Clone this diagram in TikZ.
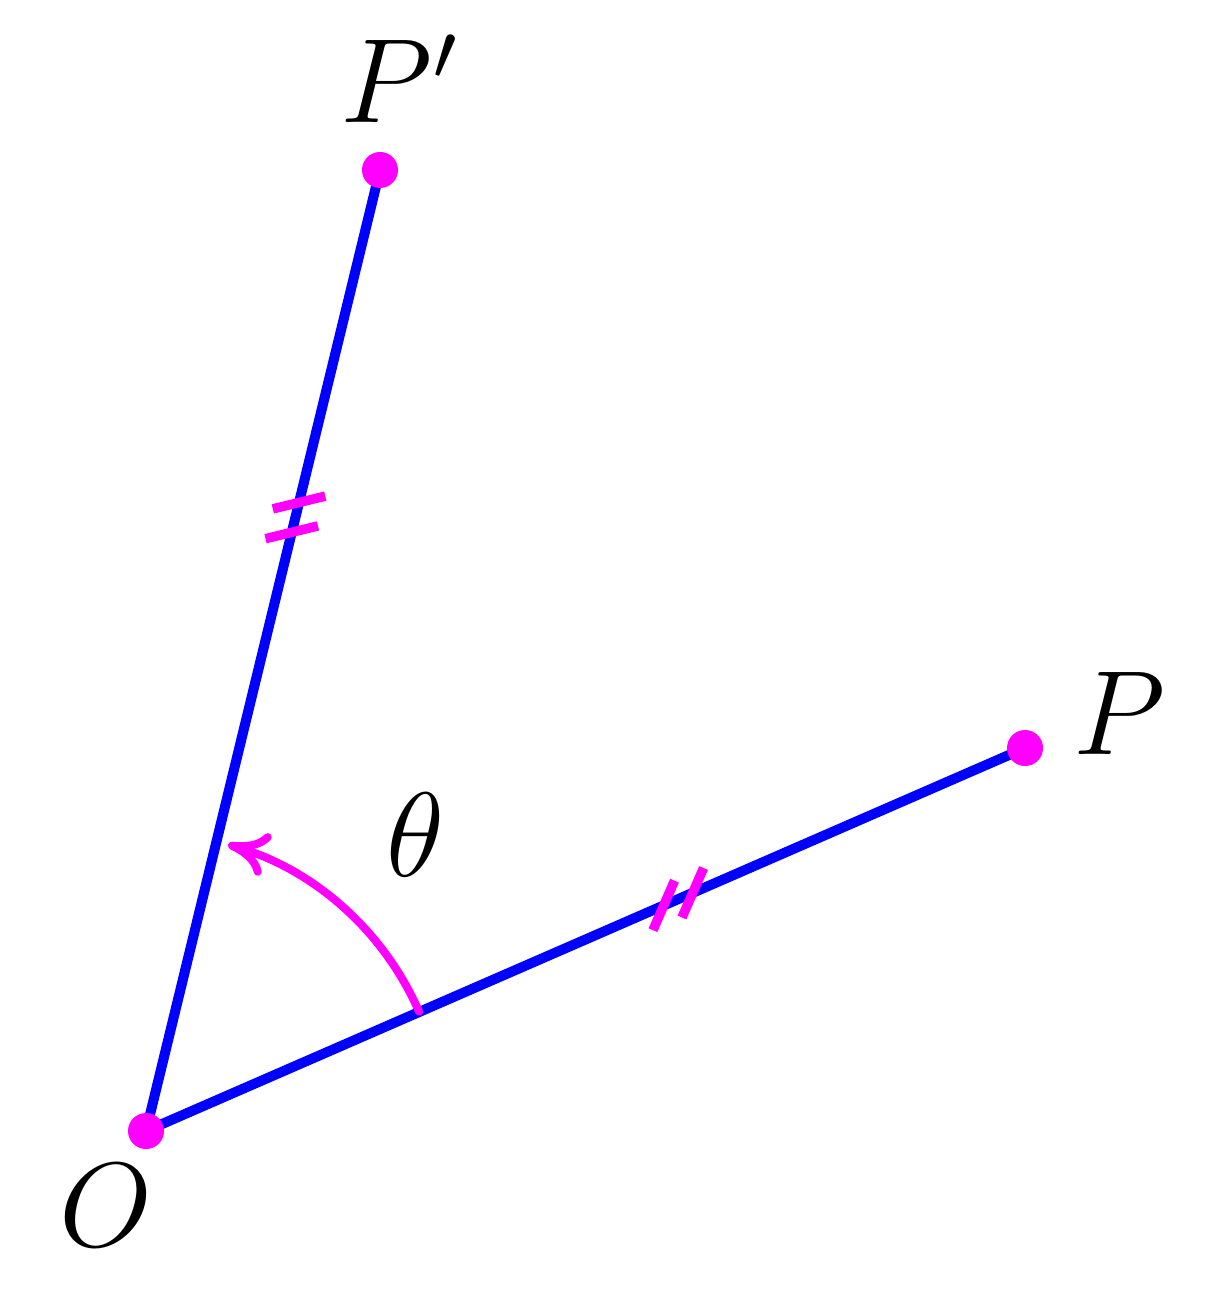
\documentclass[tikz,border=0pt]{standalone}
\usetikzlibrary{arrows.meta,calc}
\definecolor{ptcolor}{RGB}{255,0,255}
\definecolor{segcolor}{RGB}{0,0,255}
\tikzset{
dot/.style={circle,fill=ptcolor,inner sep=0pt,minimum size=3.6pt},
seg/.style={draw=segcolor,line width=1pt},
tickmark/.style={fill=ptcolor,inner sep=0pt,minimum width=0.95pt,minimum height=5.4pt,sloped},
angarc/.style={draw=ptcolor,line width=0.8pt,line cap=round,-{Computer Modern Rightarrow[length=4pt,width=4.4pt,line cap=round]}},
lbl/.style={inner sep=0pt,font=\fontsize{11.5}{14}\selectfont}}
\tikzset{every picture/.style={line width=0.75pt}}

\begin{document}
\begin{tikzpicture}[x=0.1pt,y=0.1pt,yscale=-1,xscale=1]
            \path[use as bounding box] (0,0) rectangle (1208,1302); %diagram is 1208 wide, 1302 high
            
            %Points
            \coordinate (O) at (146,1131);
            \coordinate (P) at (1025,748);
            \coordinate (Pp) at (380,170);
            %Straight Lines
            \draw[seg] (O) -- (P);
            \draw[seg] (O) -- (Pp);
            %Tick marks
            \path (O) -- (P) node[tickmark,pos=0.589] (tkP1) {} node[tickmark,pos=0.622] (tkP2) {};
            \path (O) -- (Pp) node[tickmark,pos=0.623] (tkPp1) {} node[tickmark,pos=0.654] (tkPp2) {};
            %Arc
            \draw[angarc] ($(O)+(-23.6:298)$) arc[start angle=-23.6,end angle=-74,radius=298];
            %Dots
            \node[dot] (dotO) at (O) {};
            \node[dot] (dotP) at (P) {};
            \node[dot] (dotPp) at (Pp) {};
            %Labels
            \node[lbl,anchor=base] (lblPp) at (401,123) {$P'$};
            \node[lbl,anchor=base] (lblP) at (1119,754) {$P$};
            \node[lbl,anchor=base] (lblO) at (106,1246) {$O$};
            \node[lbl,anchor=base] (lbltheta) at (415,876) {$\theta$};
\end{tikzpicture}
\end{document}
